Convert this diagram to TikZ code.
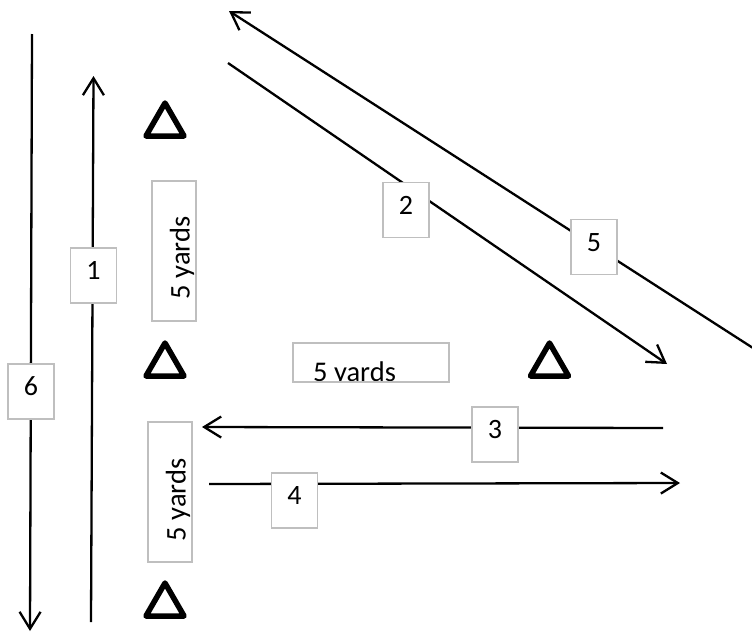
\documentclass[tikz,border=0pt]{standalone}
\usepackage{fontspec}
\setmainfont{Carlito}
\usetikzlibrary{arrows.meta,shapes.geometric}
\definecolor{boxgray}{RGB}{191,191,191}
\begin{document}
\begin{tikzpicture}[x=1pt,y=-1pt,
  line/.style={line width=2.3pt},
  arr/.style={line, -{Straight Barb[length=17pt,width=21pt,line width=2.3pt]}},
  nbox/.style={draw=boxgray, line width=1.6pt, fill=white, minimum width=46pt, minimum height=55pt, inner sep=0pt, font=\fontsize{28}{30}\selectfont, text height=0.82em, text depth=0pt},
  ybox/.style={draw=boxgray, line width=1.6pt, inner sep=0pt},
  ytext/.style={inner sep=0pt, font=\fontsize{28.5}{30}\selectfont},
  cone/.style={draw, regular polygon, regular polygon sides=3, minimum size=44pt, inner sep=0pt, line width=5.5pt, line join=round}
]
\useasboundingbox (0,0) rectangle (752,635);

% endpoints
\coordinate (s6) at (32,34);  \coordinate (e6) at (30,631);
\coordinate (s1) at (91,622); \coordinate (e1) at (93.5,76);
\coordinate (s2) at (228,63); \coordinate (e2) at (667,364);
\coordinate (s5) at (753,348); \coordinate (e5) at (229,11);
\coordinate (s3) at (663,428); \coordinate (e3) at (202,427);
\coordinate (s4) at (209,484); \coordinate (e4) at (680,483);

\draw[arr] (s6) -- (e6);
\draw[arr] (s1) -- (e1);
\draw[arr] (s2) -- (e2);
\draw[arr] (s5) -- (e5);
\draw[arr] (s3) -- (e3);
\draw[arr] (s4) -- (e4);

% cones
\node[cone] (t1) at (165,125) {};
\node[cone] (t2) at (165,365) {};
\node[cone] (t3) at (165,605) {};
\node[cone] (t4) at (549.5,365) {};

% number boxes
\node[nbox] (b1) at (93.5,275.5) {1};
\node[nbox] (b6) at (31,391.5) {6};
\node[nbox] (b2) at (406,210) {2};
\node[nbox] (b5) at (594,247) {5};
\node[nbox] (b3) at (495,434.5) {3};
\node[nbox] (b4) at (294.5,500.5) {4};

% 5 yards boxes
\node[ybox, minimum width=44pt, minimum height=140pt] (y1) at (174,251) {};
\node[ytext, rotate=90] (y1t) at (182,258) {5 yards};
\node[ybox, minimum width=44pt, minimum height=140pt] (y3) at (170,492) {};
\node[ytext, rotate=90] (y3t) at (178,500) {5 yards};
\begin{scope}
  \clip (293,343) rectangle (449,382);
  \node[ytext, anchor=base west] (y2t) at (313,381) {5 yards};
\end{scope}
\node[ybox, minimum width=156pt, minimum height=39pt] (y2) at (371,362.5) {};
\end{tikzpicture}
\end{document}
